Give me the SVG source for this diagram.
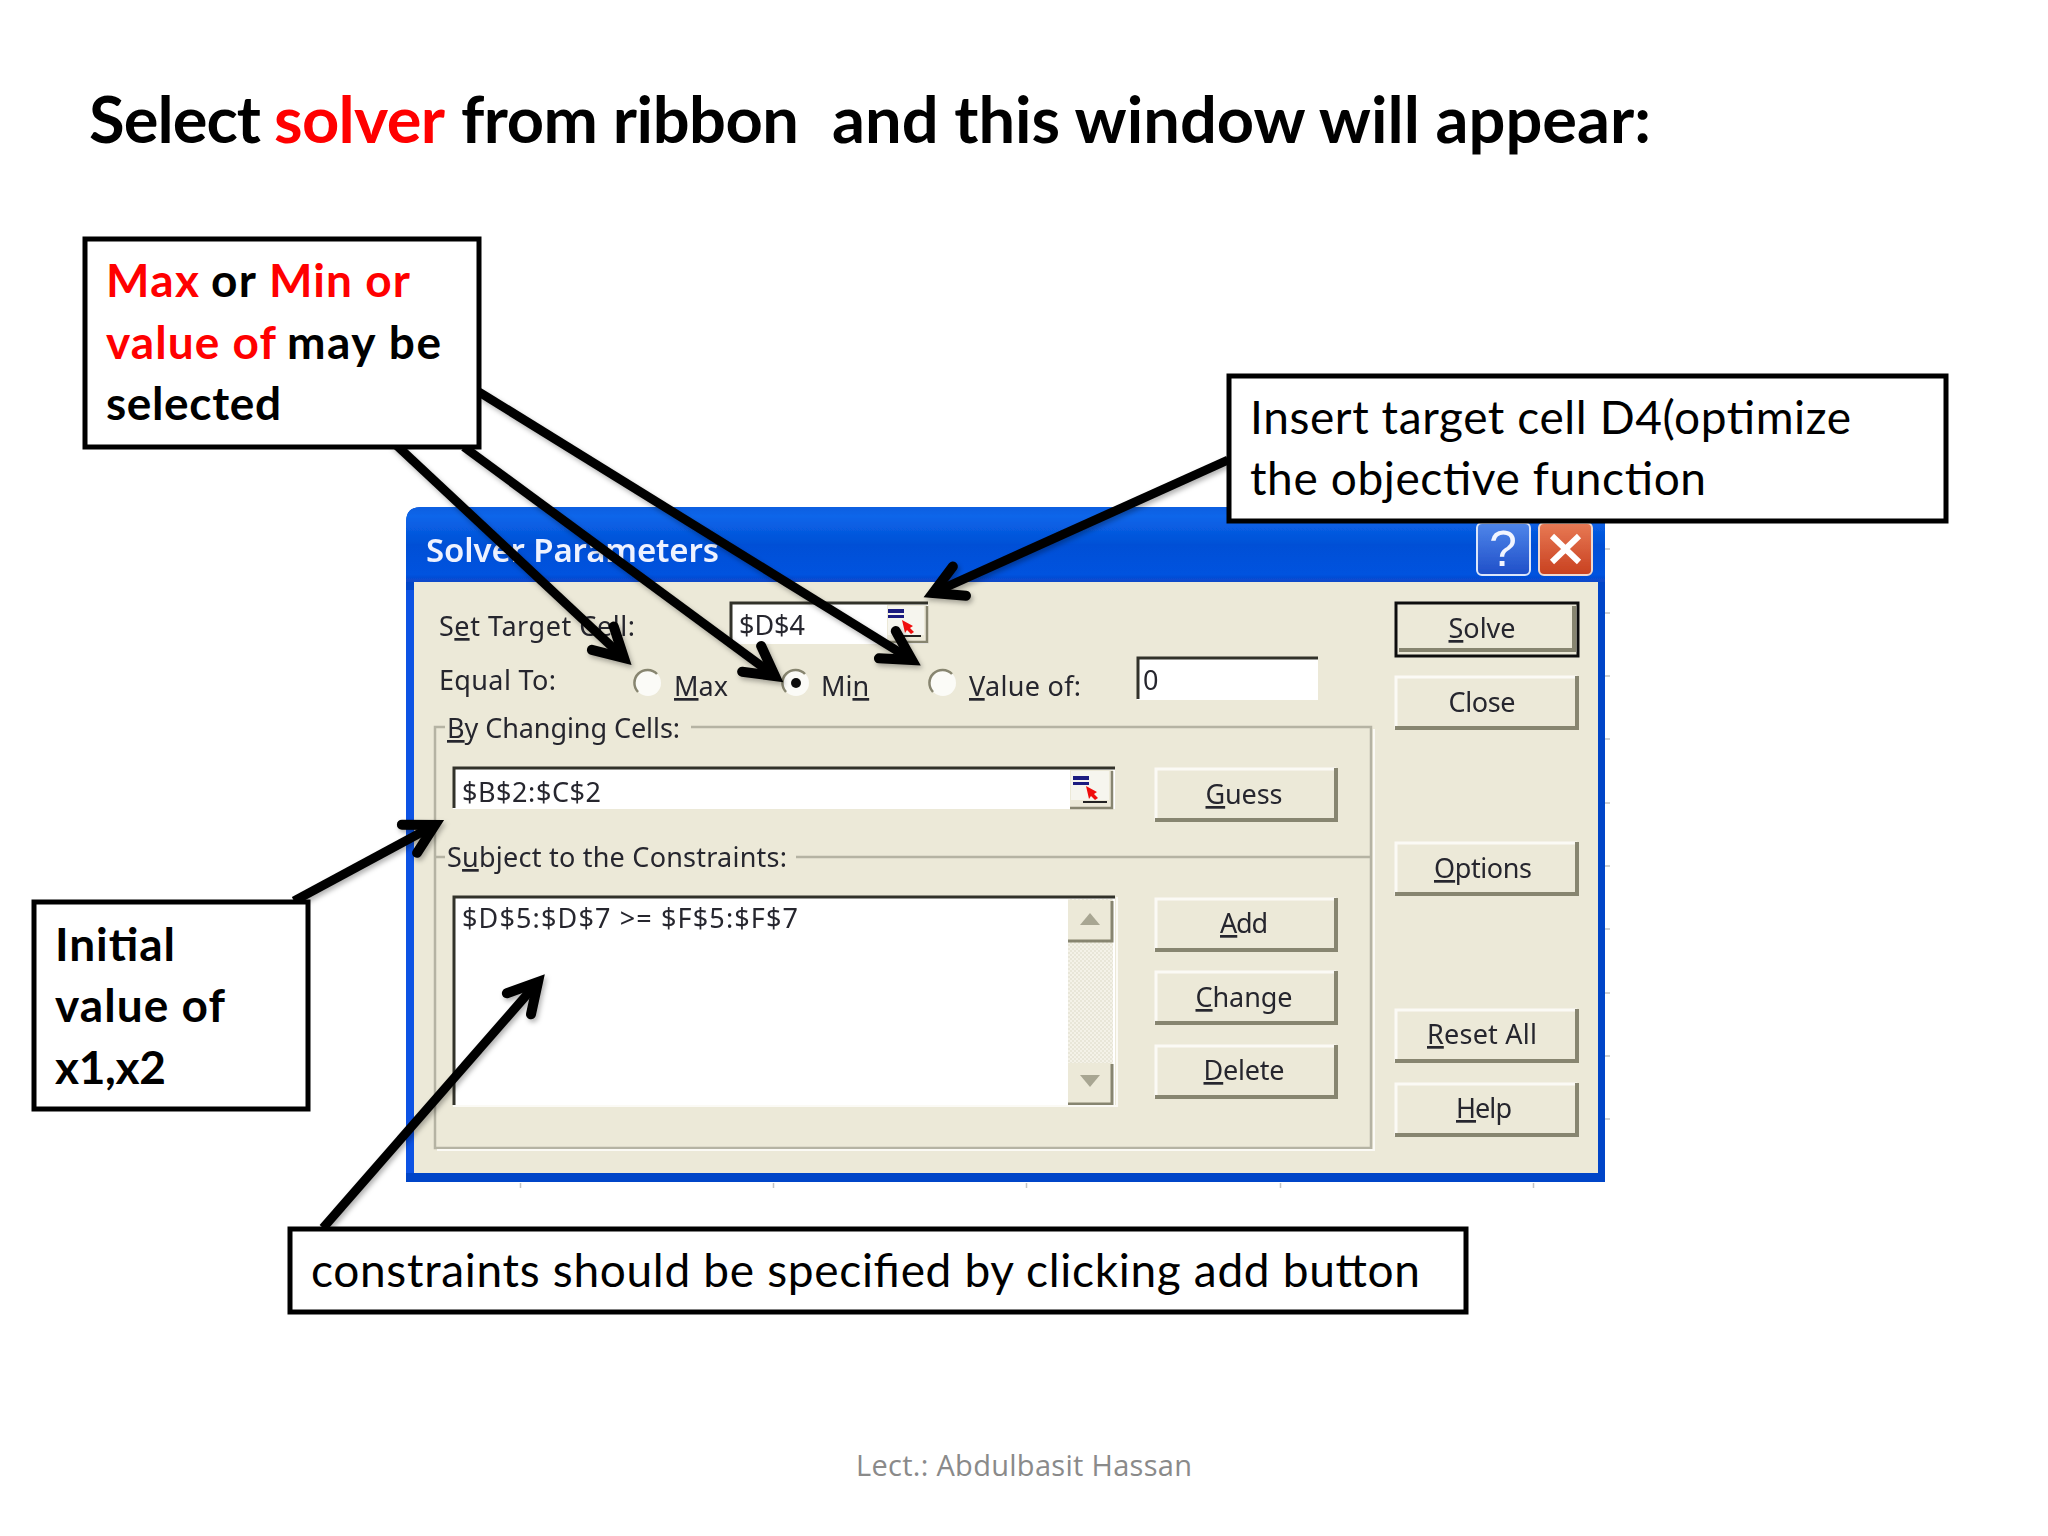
<svg xmlns="http://www.w3.org/2000/svg" width="2048" height="1536" viewBox="0 0 2048 1536">
<style>
.h{font-family:"Lato","Liberation Sans",sans-serif;font-weight:700;font-size:65px;fill:#000}
.b{font-family:"Lato","Liberation Sans",sans-serif;font-weight:700;font-size:46px;fill:#000}
.n{font-family:"Lato","Liberation Sans",sans-serif;font-weight:400;font-size:46px;fill:#000}
.r{fill:#f00}
.box{fill:#fff;stroke:#000;stroke-width:5}
.d{font-family:"Noto Sans","DejaVu Sans",sans-serif;font-size:27px;fill:#26262e}
.m{text-anchor:middle}
.u{text-decoration:underline}
.btn{fill:#ece9d8}
.hi{fill:none;stroke:#fbfaf5;stroke-width:3}
.lo{fill:none;stroke:#87856f;stroke-width:4}
.edit{fill:#fff}
.sun{fill:none;stroke:#33332b;stroke-width:3}
.gb{fill:none;stroke:#b5b3a3;stroke-width:2.5}
.arrow{fill:none;stroke:#000;stroke-width:9}
.foot{font-family:"Open Sans","Noto Sans",sans-serif;font-size:29px;fill:#8a8a8a}
</style>
<defs>
<linearGradient id="tb" x1="0" y1="0" x2="0" y2="1">
<stop offset="0" stop-color="#0a5fe0"/><stop offset=".12" stop-color="#0a66ea"/><stop offset=".5" stop-color="#0350d6"/><stop offset=".9" stop-color="#0252df"/><stop offset="1" stop-color="#0a48c8"/>
</linearGradient>
<linearGradient id="hb" x1="0" y1="0" x2="0" y2="1"><stop offset="0" stop-color="#4f86ea"/><stop offset="1" stop-color="#1f4fc8"/></linearGradient>
<linearGradient id="xb" x1="0" y1="0" x2="0" y2="1"><stop offset="0" stop-color="#e87a55"/><stop offset="1" stop-color="#c8401f"/></linearGradient>
<pattern id="dots" width="4" height="4" patternUnits="userSpaceOnUse"><rect width="4" height="4" fill="#f4f2e8"/><rect width="2" height="2" fill="#e8e6d8"/><rect x="2" y="2" width="2" height="2" fill="#e8e6d8"/></pattern>
<filter id="soft" x="-2%" y="-2%" width="104%" height="104%"><feGaussianBlur stdDeviation="0.7"/></filter>
<filter id="sh" x="-10%" y="-10%" width="120%" height="120%"><feDropShadow dx="2" dy="3" stdDeviation="2.5" flood-color="#000" flood-opacity=".3"/></filter>
<marker id="head" markerUnits="userSpaceOnUse" markerWidth="90" markerHeight="90" viewBox="-50 -45 90 90" refX="0" refY="0" orient="auto" overflow="visible">
<path d="M-29,-16 L0,0 L-29,16" fill="none" stroke="#000" stroke-width="10" stroke-linecap="round" stroke-linejoin="miter"/>
</marker>
</defs>
<rect width="2048" height="1536" fill="#fff"/>

<g id="title">
<text class="h" y="143"><tspan x="89" textLength="172">Select</tspan><tspan class="r" x="274" textLength="171">solver</tspan><tspan x="461" textLength="338">from ribbon</tspan><tspan x="832" textLength="819">and this window will appear:</tspan></text>
</g>

<g id="ticks"><path d="M520.500 1183v5M773.500 1183v5M1026.500 1183v5M1280.500 1183v5M1533.500 1183v5M1605 549h5M1605 613h5M1605 676h5M1605 739h5M1605 803h5M1605 866h5M1605 929h5M1605 993h5M1605 1056h5M1605 1119h5" stroke="#c4c4c4" stroke-width="1.500" fill="none"/></g>

<g id="solver-dialog" filter="url(#soft)">
<path d="M406 1182V522Q406 507 421 507H1590Q1605 507 1605 522V1182Z" fill="#0344c8"/>
<path d="M406 582V522Q406 507 421 507H1590Q1605 507 1605 522V582Z" fill="url(#tb)"/>
<path d="M406 590V1173H414V590Z" fill="#0b53e4"/>
<rect x="414" y="582" width="1184" height="591" fill="#ece9d8"/>
<text class="d" x="426" y="562" style="font-size:33px;font-weight:600;fill:#eef2ff" textLength="293">Solver Parameters</text>
<rect x="1477" y="523" width="53" height="52" rx="5" fill="url(#hb)" stroke="#dce6fa" stroke-width="2"/>
<text x="1503" y="566" text-anchor="middle" style="font-family:'Liberation Sans',sans-serif;font-size:50px;fill:#f2f5ff">?</text>
<rect x="1539" y="523" width="53" height="52" rx="5" fill="url(#xb)" stroke="#f0d8cc" stroke-width="2"/>
<path d="M1552 536L1579 562M1579 536L1552 562" stroke="#fff" stroke-width="6" fill="none"/>

<path class="gb" d="M445 727H435V1148H1371V727H691"/>
<path class="gb" d="M445 857H435M796 857H1371"/>
<path d="M437 1150H1374V729" fill="none" stroke="#fbfaf5" stroke-width="2"/>

<text class="d" x="439" y="636" textLength="196">S<tspan class="u">e</tspan>t Target Cell:</text>
<text class="d" x="439" y="690" textLength="117">Equal To:</text>
<text class="d" x="447" y="738" textLength="233"><tspan class="u">B</tspan>y Changing Cells:</text>
<text class="d" x="447" y="867" textLength="340">S<tspan class="u">u</tspan>bject to the Constraints:</text>

<g id="target-cell">
<rect x="730" y="602" width="198" height="42" class="edit"/>
<path class="sun" d="M731 642V603H928"/>
<rect x="887" y="605" width="40" height="38" fill="#ece9d8"/>
<path d="M887 642H927V606" fill="none" stroke="#87856f" stroke-width="2.500"/>
<rect x="888" y="606" width="36" height="29" fill="#f6f5ee"/>
<rect x="888" y="609" width="16" height="4" fill="#1a1a80"/><rect x="888" y="615" width="16" height="3" fill="#1a1a80"/>
<path d="M902 620l11 6-3 2 4 4-3 2-4-4-2 3z" fill="#f01010"/>
<path d="M897 636h24" stroke="#222" stroke-width="2"/>
<text class="d" x="739" y="635" textLength="66">$D$4</text>
</g>

<g id="radios">
<circle cx="648" cy="683" r="13" fill="#fbfbf7"/><path d="M638 692A13 13 0 0 1 657 674" fill="none" stroke="#87856f" stroke-width="2.500"/>
<circle cx="796" cy="683" r="13" fill="#fbfbf7"/><path d="M786 692A13 13 0 0 1 805 674" fill="none" stroke="#87856f" stroke-width="2.500"/><circle cx="796" cy="683" r="5" fill="#111"/>
<circle cx="943" cy="683" r="13" fill="#fbfbf7"/><path d="M933 692A13 13 0 0 1 952 674" fill="none" stroke="#87856f" stroke-width="2.500"/>
<text class="d" x="674" y="696"><tspan class="u">M</tspan>ax</text>
<text class="d" x="821" y="696">Mi<tspan class="u">n</tspan></text>
<text class="d" x="969" y="696" textLength="112"><tspan class="u">V</tspan>alue of:</text>
</g>

<g id="value-box">
<rect x="1137" y="657" width="181" height="43" class="edit"/>
<path class="sun" d="M1138 699V658H1318"/>
<text class="d" x="1143" y="690">0</text>
</g>

<g id="changing-cells">
<rect x="453" y="767" width="662" height="42" class="edit"/>
<path class="sun" d="M454 808V768H1115"/>
<rect x="1070" y="770" width="43" height="39" fill="#ece9d8"/>
<path d="M1070 808H1112V771" fill="none" stroke="#87856f" stroke-width="2.500"/>
<rect x="1071" y="771" width="38" height="29" fill="#f6f5ee"/>
<rect x="1073" y="776" width="16" height="4" fill="#1a1a80"/><rect x="1073" y="782" width="16" height="3" fill="#1a1a80"/>
<path d="M1086 786l11 6-3 2 4 4-3 2-4-4-2 3z" fill="#f01010"/>
<path d="M1083 802h24" stroke="#222" stroke-width="2"/>
<text class="d" x="462" y="802" textLength="139">$B$2:$C$2</text>
</g>

<g id="constraints">
<rect x="453" y="896" width="662" height="209" class="edit"/>
<rect x="1068" y="899" width="45" height="205" fill="url(#dots)"/>
<path class="sun" d="M454 1105V897H1115"/>
<rect x="1068" y="900" width="44" height="41" fill="#ece9d8"/>
<path d="M1068 941H1112V901" fill="none" stroke="#87856f" stroke-width="3"/>
<path d="M1080 925l10-12 10 12z" fill="#a8a692"/>
<rect x="1068" y="1063" width="44" height="41" fill="#ece9d8"/>
<path d="M1068 1104H1112V1064" fill="none" stroke="#87856f" stroke-width="3"/>
<path d="M1080 1075l10 12 10-12z" fill="#a8a692"/>
<path d="M453 1106H1117V897" fill="none" stroke="#fbfaf5" stroke-width="2"/>
<text class="d" x="462" y="928" textLength="336">$D$5:$D$7 &gt;= $F$5:$F$7</text>
</g>

<g id="btn-solve"><rect class="btn" x="1395" y="602" width="184" height="54"/><path class="lo" d="M1399 650H1574V606"/><rect x="1396" y="603" width="182" height="53" fill="none" stroke="#111" stroke-width="3"/><text class="d m" x="1482" y="638" textLength="67"><tspan class="u">S</tspan>olve</text></g>
<g id="btn-close"><rect class="btn" x="1395" y="675" width="184" height="55"/><path class="hi" d="M1396 729V677H1577"/><path class="lo" d="M1395 728H1577V676"/><text class="d m" x="1482" y="712" textLength="67">Close</text></g>
<g id="btn-guess"><rect class="btn" x="1155" y="767" width="183" height="55"/><path class="hi" d="M1156 821V769H1336"/><path class="lo" d="M1155 820H1336V768"/><text class="d m" x="1244" y="804" textLength="77"><tspan class="u">G</tspan>uess</text></g>
<g id="btn-options"><rect class="btn" x="1395" y="841" width="184" height="55"/><path class="hi" d="M1396 895V843H1577"/><path class="lo" d="M1395 894H1577V842"/><text class="d m" x="1483" y="878" textLength="98"><tspan class="u">O</tspan>ptions</text></g>
<g id="btn-add"><rect class="btn" x="1155" y="897" width="183" height="55"/><path class="hi" d="M1156 951V899H1336"/><path class="lo" d="M1155 950H1336V898"/><text class="d m" x="1244" y="933" textLength="48"><tspan class="u">A</tspan>dd</text></g>
<g id="btn-change"><rect class="btn" x="1155" y="970" width="183" height="55"/><path class="hi" d="M1156 1024V972H1336"/><path class="lo" d="M1155 1023H1336V971"/><text class="d m" x="1244" y="1007" textLength="97"><tspan class="u">C</tspan>hange</text></g>
<g id="btn-delete"><rect class="btn" x="1155" y="1044" width="183" height="55"/><path class="hi" d="M1156 1098V1046H1336"/><path class="lo" d="M1155 1097H1336V1045"/><text class="d m" x="1244" y="1080" textLength="81"><tspan class="u">D</tspan>elete</text></g>
<g id="btn-reset"><rect class="btn" x="1395" y="1008" width="184" height="55"/><path class="hi" d="M1396 1062V1010H1577"/><path class="lo" d="M1395 1061H1577V1009"/><text class="d m" x="1482" y="1044" textLength="110"><tspan class="u">R</tspan>eset All</text></g>
<g id="btn-help"><rect class="btn" x="1395" y="1082" width="184" height="55"/><path class="hi" d="M1396 1136V1084H1577"/><path class="lo" d="M1395 1135H1577V1083"/><text class="d m" x="1484" y="1118" textLength="56"><tspan class="u">H</tspan>elp</text></g>
</g>

<g id="connectors" filter="url(#sh)">
<line class="arrow" x1="393" y1="442" x2="624" y2="658" marker-end="url(#head)"/>
<line class="arrow" x1="464" y1="447" x2="775" y2="676" marker-end="url(#head)"/>
<line class="arrow" x1="479" y1="392" x2="912" y2="660" marker-end="url(#head)"/>
<line class="arrow" x1="1228" y1="460" x2="933" y2="593" marker-end="url(#head)"/>
<line class="arrow" x1="294" y1="901" x2="435" y2="825" marker-end="url(#head)"/>
<line class="arrow" x1="323" y1="1228" x2="538" y2="982" marker-end="url(#head)"/>
</g>

<g id="box-selection">
<rect class="box" x="85" y="239" width="394" height="208"/>
<text class="b" y="297"><tspan class="r" x="106" textLength="93">Max</tspan><tspan x="211" textLength="45">or</tspan><tspan class="r" x="269" textLength="141">Min or</tspan></text>
<text class="b" y="359"><tspan class="r" x="106" textLength="170">value of</tspan><tspan x="287" textLength="154">may be</tspan></text>
<text class="b" x="106" y="420" textLength="175">selected</text>
</g>
<g id="box-target">
<rect class="box" x="1229" y="376" width="717" height="145"/>
<text class="n" x="1250" y="434" textLength="601">Insert target cell D4(optimize</text>
<text class="n" x="1250" y="495" textLength="456">the objective function</text>
</g>
<g id="box-initial">
<rect class="box" x="34" y="902" width="274" height="207"/>
<text class="b" x="55" y="961" textLength="120">Initial</text>
<text class="b" x="55" y="1022" textLength="170">value of</text>
<text class="b" x="55" y="1084" textLength="111">x1,x2</text>
</g>
<g id="box-constraints">
<rect class="box" x="290" y="1229" width="1176" height="83"/>
<text class="n" x="311" y="1287" textLength="1109">constraints should be specified by clicking add button</text>
</g>

<text id="footer" class="foot" x="856" y="1476" textLength="336">Lect.: Abdulbasit Hassan</text>
</svg>
